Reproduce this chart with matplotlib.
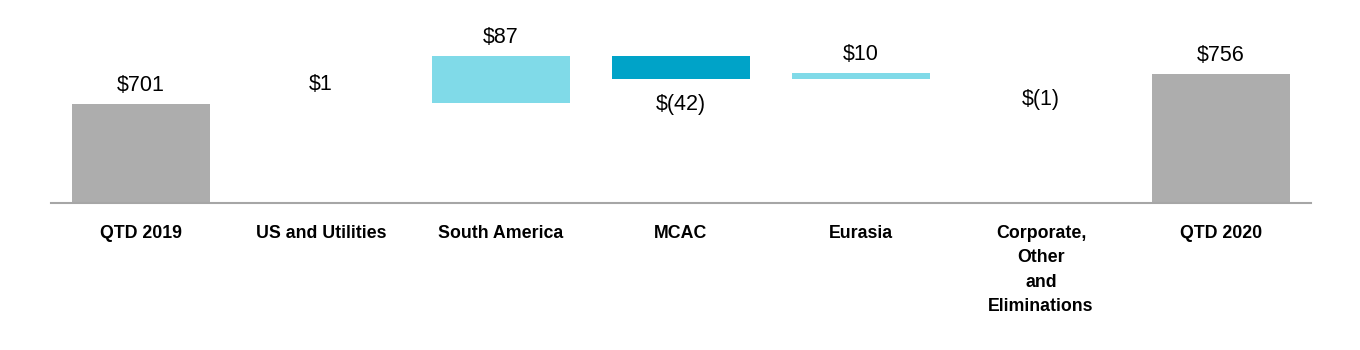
import numpy as np
import matplotlib.pyplot as plt

plt.rcParams['font.family'] = ['Liberation Sans', 'DejaVu Sans']

categories = ['QTD 2019', 'US and Utilities', 'South America', 'MCAC', 'Eurasia',
              'Corporate,\nOther\nand\nEliminations', 'QTD 2020']
start_total = 701
changes = [1, 87, -42, 10, -1]
end_total = 756
labels = ['$701', '$1', '$87', '$(42)', '$10', '$(1)', '$756']

grey = '#ADADAD'
light = '#80DAE8'
dark = '#00A3C8'

# waterfall bottoms / heights
heights = [start_total] + [abs(c) for c in changes] + [end_total]
running = np.cumsum([start_total] + changes)
bottoms = [0]
for i, c in enumerate(changes):
    bottoms.append(min(running[i], running[i + 1]))
bottoms.append(0)
# changes of ~1 are thinner than a pixel in the original, so they don't show
colors = [grey] + [(light if c > 0 else dark) if abs(c) > 1 else 'none' for c in changes] + [grey]
signs = [1] + [1 if c > 0 else -1 for c in changes] + [1]

fig = plt.figure(figsize=(13.6, 3.5), dpi=100)
ax = fig.add_axes([0.0375, 0.4214, 0.9265, 0.5786])
x = np.arange(len(categories))
ax.bar(x, heights, bottom=bottoms, width=0.767, color=colors)

for i in range(len(x)):
    if signs[i] > 0:
        y = bottoms[i] + heights[i]
        off = 13.5
    else:
        y = bottoms[i]
        off = -18.5
    ax.annotate(labels[i], (x[i], y), xytext=(0, off), textcoords='offset points',
                ha='center', va='center', fontsize=15.5, color='black')

ax.set_xlim(-0.5, 6.5)
ax.set_ylim(520, 892)
ax.set_yticks([])
ax.set_xticks(x)
ax.set_xticklabels(categories, fontsize=12.8, fontweight='bold', linespacing=1.57)
ax.tick_params(axis='x', length=0, pad=16)
for s in ['top', 'right', 'left']:
    ax.spines[s].set_visible(False)
ax.spines['bottom'].set_color('#A6A6A6')
ax.spines['bottom'].set_linewidth(1.5)

fig.savefig('out.png', dpi=100)
